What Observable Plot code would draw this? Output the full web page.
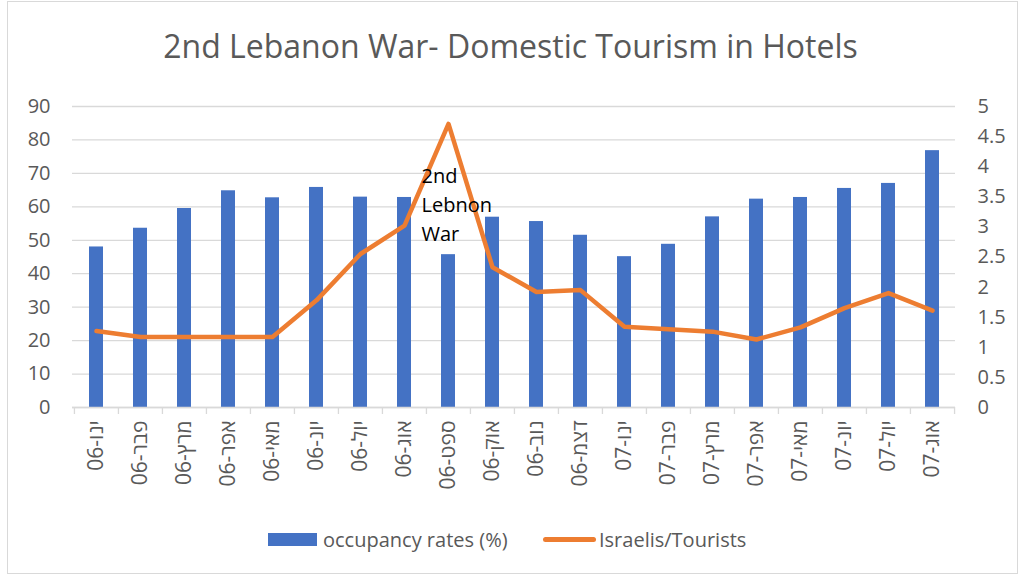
<!DOCTYPE html>
<html>
<head>
<meta charset="utf-8">
<script src="https://cdn.jsdelivr.net/npm/d3@7"></script>
<script src="https://cdn.jsdelivr.net/npm/@observablehq/plot@0.6"></script>
<style>
  html, body { margin: 0; padding: 0; background: #fff; }
  #wrap { position: relative; width: 1021px; height: 577px; overflow: hidden; font-family: "Open Sans", sans-serif; }
  #frame { position: absolute; left: 7px; top: 1px; width: 1011px; height: 573px; border: 1px solid #d9d9d9; box-sizing: border-box; }
  #title { position: absolute; left: 0; top: 24px; width: 1021px; text-align: center; font-size: 32px; color: #595959; }
  #chart { position: absolute; left: 0; top: 0; }
  #legend { position: absolute; top: 524px; left: 0; width: 1021px; font-size: 20px; color: #595959; }
  .lg { position: absolute; top: 0; display: flex; align-items: center; height: 30px; }
  .sw-bar { width: 49px; height: 13px; background: #4472C4; margin-right: 6px; }
  .sw-line { width: 53px; height: 5px; border-radius: 3px; background: #ED7D31; margin-right: 3px; }
</style>
</head>
<body>
<div id="wrap">
  <div id="frame"></div>
  <div id="title">2nd Lebanon War- Domestic Tourism in Hotels</div>
  <div id="chart"></div>
  <div id="legend">
    <div class="lg" style="left:268px"><div class="sw-bar"></div><span>occupancy rates (%)</span></div>
    <div class="lg" style="left:543px"><div class="sw-line"></div><span>Israelis/Tourists</span></div>
  </div>
</div>
<script>
const months = ["ינו-06","פבר-06","מרץ-06","אפר-06","מאי-06","יונ-06","יול-06","אוג-06","ספט-06","אוק-06","נוב-06","דצמ-06","ינו-07","פבר-07","מרץ-07","אפר-07","מאי-07","יונ-07","יול-07","אוג-07"];
const occupancy = [48.0, 53.6, 59.5, 64.8, 62.7, 65.8, 62.9, 62.8, 45.7, 56.9, 55.6, 51.5, 45.1, 48.8, 57.0, 62.3, 62.8, 65.5, 67.0, 76.8];
const ratio = [1.27, 1.17, 1.17, 1.17, 1.17, 1.78, 2.55, 3.02, 4.71, 2.33, 1.92, 1.95, 1.34, 1.30, 1.26, 1.13, 1.33, 1.65, 1.90, 1.61];
const leftTicks = [0,10,20,30,40,50,60,70,80,90];
const rightTicks = [0,0.5,1,1.5,2,2.5,3,3.5,4,4.5,5];
const annotation = "2nd\nLebnon\nWar";
const annotationMonth = "ספט-06";

const RATIO_TO_LEFT = 90 / 5;
const rows = months.map((m, i) => ({month: m, occ: occupancy[i], ratio: ratio[i]}));

const W = 1021, H = 500;
const mL = 72, mR = 66, mT = 106, mB = 93;
const step = (W - mL - mR) / months.length;

const chart = Plot.plot({
  width: W, height: H,
  marginLeft: mL, marginRight: mR, marginTop: mT, marginBottom: mB,
  style: {fontFamily: "Open Sans, sans-serif", background: "transparent", overflow: "visible"},
  x: {type: "band", domain: months, paddingInner: 0.69, paddingOuter: 0.345, label: null},
  y: {domain: [0, 90], label: null},
  marks: [
    Plot.gridY(leftTicks, {stroke: "#d9d9d9", strokeOpacity: 1, strokeWidth: 1.3}),
    Plot.barY(rows, {x: "month", y: "occ", fill: "#4472C4"}),
    Plot.ruleY([0], {stroke: "#d9d9d9", strokeWidth: 1.3}),
    Plot.ruleX(months, {x: d => d, dx: -step / 2, y1: 0, y2: 0, stroke: "#d9d9d9", strokeWidth: 1.3, insetBottom: -7}),
    Plot.ruleX([months[months.length - 1]], {x: d => d, dx: step / 2, y1: 0, y2: 0, stroke: "#d9d9d9", strokeWidth: 1.3, insetBottom: -7}),
    Plot.lineY(rows, {x: "month", y: d => d.ratio * RATIO_TO_LEFT, stroke: "#ED7D31", strokeWidth: 4.5, strokeLinejoin: "round", strokeLinecap: "round"}),
    Plot.text([annotation], {x: () => annotationMonth, y: () => 59.6, dx: -27, dy: -5, textAnchor: "start", lineAnchor: "middle", lineHeight: 1.45, fontSize: 20, fill: "#000"}),
    Plot.axisY(leftTicks, {anchor: "left", tickSize: 0, tickPadding: 22, fontSize: 20, color: "#595959", label: null}),
    Plot.axisY(rightTicks.map(t => t * RATIO_TO_LEFT), {anchor: "right", tickSize: 0, tickPadding: 22, fontSize: 20, color: "#595959", label: null, textAnchor: "start", tickFormat: d => String(+(d / RATIO_TO_LEFT).toFixed(2))}),
    Plot.axisX(months, {anchor: "bottom", tickSize: 0, tickPadding: 13, tickRotate: -90, fontSize: 21, color: "#595959", label: null})
  ]
});
document.getElementById("chart").appendChild(chart);
</script>
</body>
</html>
